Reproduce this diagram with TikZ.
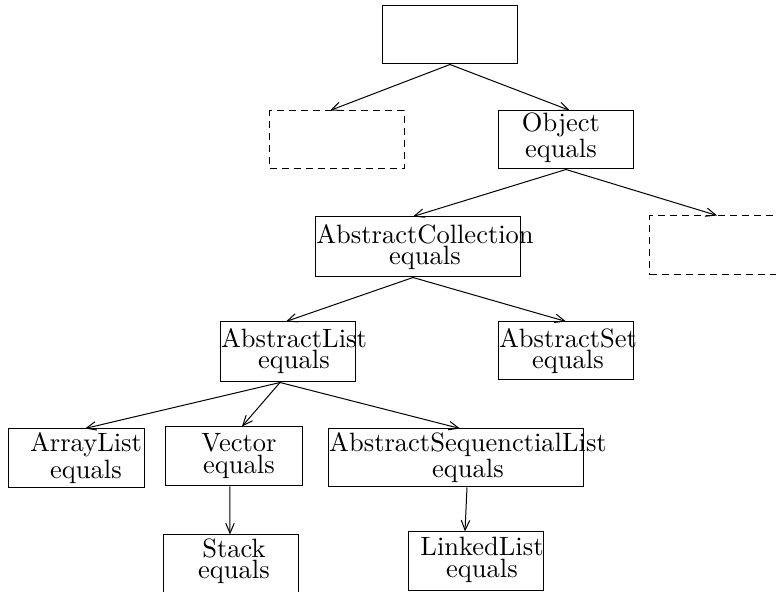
\documentclass[tikz,border=0pt]{standalone}
\usepackage{fontspec}
\usepackage{tikz}
\usetikzlibrary{positioning, arrows.meta}

\tikzset{
  cls/.style={draw, line width=0.4pt, minimum width=53.6pt, minimum height=23.2pt, inner sep=0pt},
  hole/.style={cls, dash pattern=on 2.8pt off 2pt},
  lbl/.style={align=center, inner sep=0pt, font=\fontsize{10.6}{8.5}\selectfont},
  inh/.style={-{Straight Barb[length=4pt,width=3.4pt]}, line width=0.4pt}
}

\begin{document}
\begin{tikzpicture}[x=0.4pt, y=-0.4pt]
  \useasboundingbox (0,0) rectangle (776,592);
  % class boxes
  \node[cls] (top) at (450,35) {};
  \node[hole] (lft) at (337,140) {};
  \node[cls] (obj) at (566,140) {};
  \node[cls, minimum width=81.6pt, minimum height=24pt] (coll) at (418,247) {};
  \node[hole, minimum height=23.6pt] (rgt) at (717,245.5) {};
  \node[cls, minimum height=24pt] (alist) at (288,352) {};
  \node[cls] (aset) at (566,351) {};
  \node[cls, minimum width=54pt, minimum height=23.6pt] (arr) at (76.5,458.5) {};
  \node[cls, minimum width=54.4pt, minimum height=23.6pt] (vec) at (234,456.5) {};
  \node[cls, minimum width=101.6pt] (aseq) at (456,458) {};
  \node[cls] (stack) at (231,564) {};
  \node[cls, minimum height=23.6pt] (llist) at (476,561.5) {};

  % names
  \node[lbl] (tobj) at (561,138) {Object\\equals};
  \node[lbl] (tcoll) at (425,247) {AbstractCollection\\equals};
  \node[lbl] (talist) at (294,351) {AbstractList\\equals};
  \node[lbl] (taset) at (568,351) {AbstractSet\\equals};
  \node[lbl] (tarr) at (86,458) {ArrayList\\equals};
  \node[lbl] (tvec) at (239,456) {Vector\\equals};
  \node[lbl] (taseq) at (468,458) {AbstractSequenctialList\\equals};
  \node[lbl] (tstack) at (234,561) {Stack\\equals};
  \node[lbl] (tllist) at (482,560) {LinkedList\\equals};

  % inheritance arrows
  \draw[inh] (top.south) -- ([xshift=-2.8pt]lft.north);
  \draw[inh] (top.south) -- ([xshift=1.6pt]obj.north);
  \draw[inh] (obj.south) -- ([xshift=-2pt]coll.north);
  \draw[inh] (obj.south) -- (rgt.north);
  \draw[inh] ([xshift=-2pt]coll.south) -- ([xshift=-0.8pt]alist.north);
  \draw[inh] ([xshift=-2pt]coll.south) -- (aset.north);
  \draw[inh] ([xshift=-3.2pt]alist.south) -- ([xshift=3.4pt]arr.north);
  \draw[inh] ([xshift=-3.2pt]alist.south) -- ([xshift=3.2pt]vec.north);
  \draw[inh] ([xshift=-3.2pt]alist.south) -- ([xshift=1.6pt]aseq.north);
  \draw[inh] ([xshift=-1.6pt]vec.south) -- ([xshift=-0.4pt]stack.north);
  \draw[inh] ([xshift=4.4pt]aseq.south) -- ([xshift=-4.4pt]llist.north);
\end{tikzpicture}
\end{document}
